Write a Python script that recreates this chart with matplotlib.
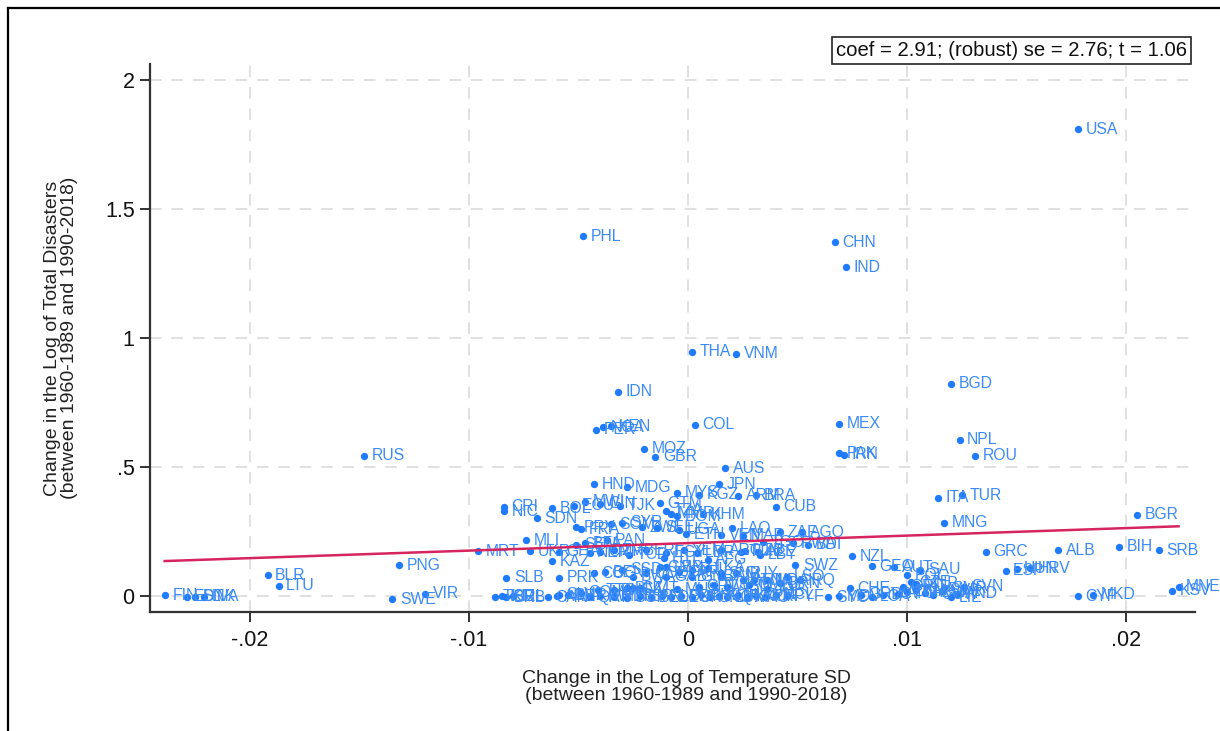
import matplotlib
matplotlib.use("Agg")
import matplotlib.pyplot as plt
from matplotlib.lines import Line2D
from matplotlib import font_manager

# ---------------- data ----------------
codes = [
    "USA","PHL","CHN","IND","THA","VNM","BGD","IDN","MEX","COL",
    "NGA","KEN","PER","NPL","MOZ","RUS","PAK","IRN","GBR","ROU",
    "AUS","HND","JPN","MDG","MYS","KGZ","ARM","BRA","TUR","ITA",
    "CUB","CRI","NIC","BOL","ECU","MWI","GIN","TJK","GTM","TZA",
    "KHM","MMR","DOM","MNG","SDN","PRY","FRA","SOM","SYR","ZWE",
    "SLE","UGA","ETH","LAO","VEN","MAR","BGR","ZAF","AGO","TGO",
    "RWA","BDI","MLI","PAN","SEN","BFA","MRT","UKR","KAZ","GHA",
    "NER","CMR","ZMB","TCD","ERI","EGY","YEM","LBR","AFG","ARG",
    "TUN","LBY","UZB","AZE","HTI","NZL","GRC","ALB","BIH","SRB",
    "PNG","BLR","LTU","SLB","PRK","BEN","COG","SSD","BWA","COD",
    "GAB","CAF","GNB","LKA","JAM","GUY","FJI","MDA","GMB","LBN",
    "DJI","SUR","BTN","IRQ","LSO","SWZ","GEO","AUT","SAU","POL",
    "CZE","HRV","HUN","ESP","SVN","CYP","MKD","MNE","KSV","FIN",
    "EST","DNK","LVA","SWE","VIR","CIV","COM","SLV","TTO","BHS",
    "BLZ","VUT","MUS","CPV","TLS","WSM","OMN","JOR","BRN","TKM",
    "ISL","BRB","IRL","CAN","ARE","BHR","QAT","KWT","MLT","SGP",
    "ISR","BEL","NLD","DEU","PRT","URY","CHL","GNQ","KOR","LUX",
    "HKG","MAC","NOR","PRI","NCL","PYF","SYC","MDV","CHE","GRD",
    "LCA","VCT","ATG","DMA","KNA","ABW","CUW","SVK","LIE","AND",
    "GRL","MNP","SMR",
]

temp_sd_change = [
    0.0178,-0.0048,0.0067,0.0072,0.0002,0.0022,0.0120,-0.0032,0.0069,0.0003,
    -0.0039,-0.0035,-0.0042,0.0124,-0.0020,-0.0148,0.0069,0.0071,-0.0015,0.0131,
    0.0017,-0.0043,0.0014,-0.0028,-0.0005,0.0005,0.0023,0.0031,0.0125,0.0114,
    0.0040,-0.0084,-0.0084,-0.0062,-0.0052,-0.0047,-0.0040,-0.0031,-0.0013,-0.0010,
    0.0007,-0.0008,-0.0005,0.0117,-0.0069,-0.0051,-0.0049,-0.0035,-0.0030,-0.0021,
    -0.0014,-0.0004,-0.0001,0.0020,0.0015,0.0025,0.0205,0.0042,0.0052,0.0034,
    0.0048,0.0055,-0.0074,-0.0037,-0.0051,-0.0047,-0.0096,-0.0072,-0.0062,-0.0059,
    -0.0045,-0.0040,-0.0034,-0.0027,-0.0019,-0.0010,-0.0002,0.0004,0.0009,0.0015,
    0.0024,0.0033,0.0026,0.0032,-0.0011,0.0075,0.0136,0.0169,0.0197,0.0215,
    -0.0132,-0.0192,-0.0187,-0.0083,-0.0059,-0.0038,-0.0043,-0.0030,-0.0025,-0.0019,
    -0.0010,-0.0004,0.0002,0.0009,0.0015,0.0022,0.0030,0.0036,-0.0013,-0.0010,
    0.0002,0.0015,0.0025,0.0051,0.0045,0.0049,0.0084,0.0094,0.0106,0.0100,
    0.0102,0.0156,0.0150,0.0145,0.0126,0.0178,0.0185,0.0224,0.0221,-0.0239,
    -0.0229,-0.0225,-0.0221,-0.0135,-0.0120,-0.0025,-0.0049,-0.0059,-0.0041,-0.0034,
    -0.0028,-0.0022,-0.0005,0.0005,0.0012,0.0018,0.0028,0.0036,0.0042,-0.0088,
    -0.0085,-0.0083,-0.0080,-0.0064,-0.0060,-0.0055,-0.0045,-0.0040,-0.0034,-0.0028,
    -0.0022,-0.0017,-0.0012,-0.0008,-0.0003,0.0002,0.0006,0.0010,0.0014,0.0018,
    0.0023,0.0027,0.0031,0.0035,0.0040,0.0045,0.0064,0.0069,0.0074,0.0079,
    0.0084,0.0089,0.0096,0.0100,0.0104,0.0108,0.0112,0.0116,0.0120,0.0123,
    0.0098,0.0104,0.0117,
]

disasters_change = [
    1.810,1.395,1.372,1.275,0.946,0.938,0.822,0.791,0.667,0.663,
    0.655,0.657,0.645,0.605,0.570,0.543,0.554,0.548,0.539,0.543,
    0.496,0.433,0.434,0.422,0.401,0.392,0.388,0.390,0.391,0.380,
    0.345,0.345,0.328,0.341,0.349,0.366,0.358,0.349,0.360,0.330,
    0.316,0.318,0.310,0.283,0.302,0.267,0.258,0.279,0.283,0.267,
    0.264,0.256,0.240,0.262,0.236,0.233,0.314,0.248,0.248,0.209,
    0.205,0.198,0.217,0.217,0.198,0.205,0.174,0.174,0.134,0.171,
    0.167,0.171,0.178,0.159,0.178,0.167,0.178,0.167,0.140,0.178,
    0.171,0.159,0.175,0.171,0.147,0.155,0.171,0.178,0.190,0.178,
    0.120,0.081,0.039,0.070,0.070,0.093,0.089,0.101,0.074,0.089,
    0.074,0.093,0.074,0.109,0.074,0.089,0.062,0.062,0.112,0.112,
    0.101,0.089,0.062,0.062,0.074,0.120,0.116,0.112,0.101,0.081,
    0.054,0.108,0.105,0.097,0.035,0.000,0.004,0.035,0.021,0.002,
    -0.002,-0.002,-0.002,-0.012,0.008,0.031,0.012,0.004,0.023,0.023,
    0.031,0.031,0.027,0.035,0.043,0.035,0.043,0.027,0.050,-0.002,
    0.000,-0.004,0.000,-0.004,0.000,0.002,-0.004,0.000,-0.002,-0.006,
    0.000,-0.004,0.000,-0.004,0.000,-0.004,0.002,-0.004,0.000,-0.004,
    0.002,-0.004,0.000,-0.002,0.004,0.000,-0.004,0.000,0.031,0.004,
    -0.002,0.004,0.008,0.016,0.023,0.012,0.004,0.020,-0.004,0.008,
    0.035,0.047,0.031,
]

fit_intercept = 0.205
fit_slope = 2.91
stat_text = "coef = 2.91; (robust) se = 2.76; t = 1.06"

x_ticks = [-0.02, -0.01, 0.0, 0.01, 0.02]
x_tick_labels = ["-.02", "-.01", "0", ".01", ".02"]
y_ticks = [0, 0.5, 1, 1.5, 2]
y_tick_labels = ["0", ".5", "1", "1.5", "2"]

x_title = "Change in the Log of Temperature SD\n(between 1960-1989 and 1990-2018)"
y_title = "Change in the Log of Total Disasters\n(between 1960-1989 and 1990-2018)"

# ---------------- style ----------------
avail = {f.name for f in font_manager.fontManager.ttflist}
base_font = "Liberation Sans" if "Liberation Sans" in avail else "DejaVu Sans"
plt.rcParams["font.family"] = [base_font, "DejaVu Sans"]

dot_color = "#1f7bff"
text_color = "#3a8af7"
line_color = "#d6245e"
grid_color = "#e0e0e0"
axis_color = "#333333"

fig = plt.figure(figsize=(12.2, 7.31), dpi=100)
ax = fig.add_axes([150/1220, 1 - 612/731, 1045/1220, 548/731])

ax.set_xlim(-0.02457, 0.02315)
ax.set_ylim(-0.062, 2.062)

# grid
for xv in x_ticks:
    ax.axvline(xv, color=grid_color, lw=1.4, ls=(0, (6, 5)), zorder=0)
for yv in y_ticks:
    ax.axhline(yv, color=grid_color, lw=1.4, ls=(0, (6, 5)), zorder=0)

# scatter + labels
ax.scatter(temp_sd_change, disasters_change, s=28, color=dot_color, zorder=3, linewidths=0)
for c, xv, yv in zip(codes, temp_sd_change, disasters_change):
    ax.annotate(c, (xv, yv), xytext=(5.5, 0), textcoords="offset points",
                ha="left", va="center", fontsize=11.3, color=text_color, zorder=4)

# fitted line
xmin, xmax = min(temp_sd_change), max(temp_sd_change)
ax.plot([xmin, xmax], [fit_intercept + fit_slope * xmin, fit_intercept + fit_slope * xmax],
        color=line_color, lw=1.8, zorder=5)

# axes styling
for s in ["top", "right"]:
    ax.spines[s].set_visible(False)
for s in ["left", "bottom"]:
    ax.spines[s].set_color(axis_color)
    ax.spines[s].set_linewidth(1.6)

ax.set_xticks(x_ticks)
ax.set_xticklabels(x_tick_labels)
ax.set_yticks(y_ticks)
ax.set_yticklabels(y_tick_labels)
ax.tick_params(axis="both", direction="out", length=7, width=1.4, color=axis_color,
               labelsize=15.5, labelcolor="#111111")
ax.tick_params(axis="x", pad=6)
ax.tick_params(axis="y", pad=4)

ax.set_xlabel(x_title, fontsize=14, color="#222222", linespacing=1.05, va="center")
ax.xaxis.set_label_coords(0.513, -0.137)
ax.set_ylabel(y_title, fontsize=14, color="#222222", linespacing=1.05, va="center")
ax.yaxis.set_label_coords(-0.085, 0.5)

# stats box
fig.text(1187/1220, 1 - 50.5/731, stat_text, ha="right", va="center", fontsize=14.6,
         color="#111111",
         bbox=dict(boxstyle="square,pad=0.2", facecolor="white", edgecolor="#222222", lw=1.2))

# outer frame lines (top and left)
fig.add_artist(Line2D([8/1220, 1], [1 - 8/731, 1 - 8/731], color="black", lw=1.6,
                      transform=fig.transFigure))
fig.add_artist(Line2D([8/1220, 8/1220], [0, 1 - 8/731], color="black", lw=1.6,
                      transform=fig.transFigure))

fig.savefig("out.png", dpi=100, facecolor="white")
